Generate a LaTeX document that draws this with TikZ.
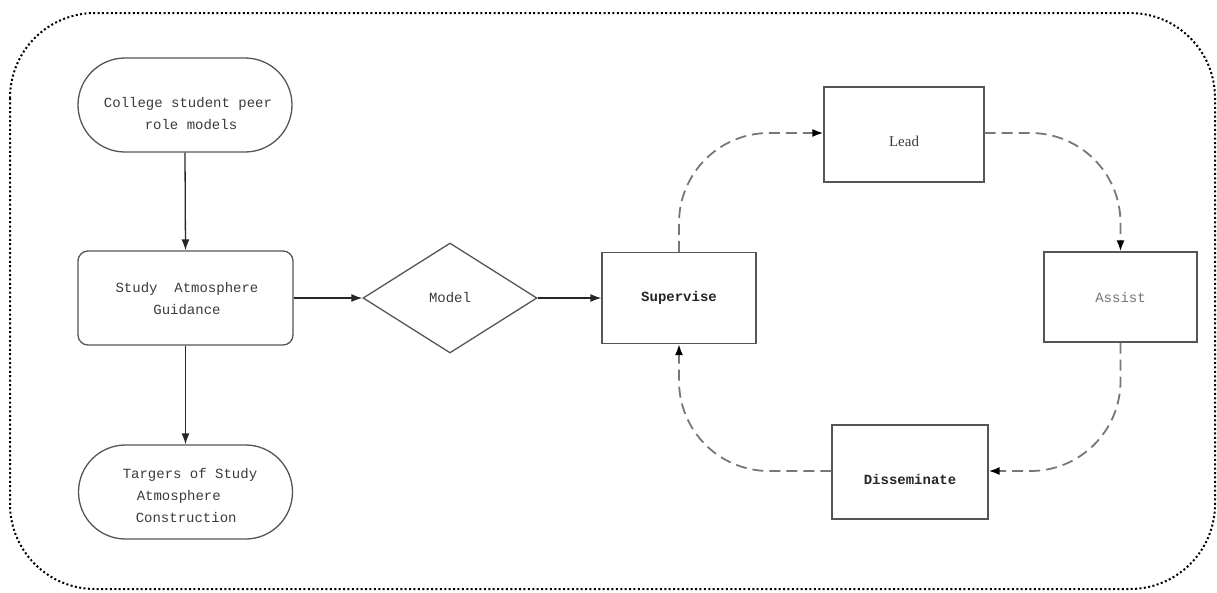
\documentclass[tikz,border=0pt]{standalone}
\usepackage{fontspec}
\setmonofont{Liberation Mono}
\newfontfamily\leadfont{Liberation Serif}
\usetikzlibrary{shapes.geometric,arrows.meta}
\definecolor{boxline}{HTML}{555555}
\definecolor{txt}{HTML}{3A3A3A}
\definecolor{dashc}{HTML}{777777}
\tikzset{
  txtfont/.style={font=\ttfamily\fontsize{14}{22}\selectfont, text=txt},
  base/.style={draw=boxline, line width=1.3pt, inner sep=0pt, txtfont},
  stadium/.style={base, rectangle, rounded corners=47pt, minimum width=214pt, minimum height=94pt},
  roundbox/.style={base, rectangle, rounded corners=10pt, minimum width=215pt, minimum height=94pt},
  plainbox/.style={base, rectangle, minimum width=154pt, minimum height=91pt},
  boldtxt/.style={font=\ttfamily\bfseries\fontsize{14}{22}\selectfont, text=black!85},
  decision/.style={base, diamond, minimum width=174pt, minimum height=110pt},
  solidarrow/.style={draw=black!85, line width=1.3pt, -{Latex[length=11pt,width=8pt]}},
  loopedge/.style={draw=dashc, line width=1.8pt, dash pattern=on 11pt off 6pt, rounded corners=90pt},
  looparrow/.style={loopedge, -{Latex[length=11pt,width=8pt,color=black]}},
  frame/.style={draw=black, line width=2pt, dash pattern=on 2pt off 2.4pt, rounded corners=85pt}
}
\begin{document}
\begin{tikzpicture}[x=1pt,y=-1pt]
\useasboundingbox (0,0) rectangle (1217,592);
\draw[frame] (10,13) rectangle (1215,589);

\node[stadium] (peer) at (185,105) {};
\node[txtfont, align=center] (peertxt) at (188,114) {College student peer\\\hspace*{6pt}role models};

\node[roundbox] (guide) at (185.5,298) {};
\node[txtfont, align=center] (guidetxt) at (187,299) {Study\ \ Atmosphere\\Guidance};

\node[stadium] (target) at (185.5,492) {};
\node[txtfont, align=left] (targettxt) at (190,495) {Targers of Study\\\hspace*{14pt}Atmosphere\\\hspace*{13pt}Construction};

\node[decision] (model) at (450,298) {Model};

\node[plainbox, boldtxt] (sup) at (679,298) {Supervise};
\node[plainbox, minimum width=160pt, minimum height=95pt] (lead) at (904,134.5) {};
\node[font=\leadfont\fontsize{15}{16}\selectfont, text=txt] (leadtxt) at (904,141) {Lead};
\node[plainbox, minimum width=153pt, minimum height=90pt, text=black!55] (assist) at (1120.5,297) {Assist};
\node[plainbox, minimum width=156pt, minimum height=94pt] (diss) at (910,472) {};
\node[boldtxt] (disstxt) at (910,479) {Disseminate};

\draw[solidarrow] (peer.south) -- (guide.north);
\draw[solidarrow] (guide.south) -- (target.north);
\draw[solidarrow] (guide.east) -- (model.west);
\draw[solidarrow] (model.east) -- (sup.west);

\draw[looparrow] (sup.north) |- ([yshift=1.5pt]lead.west);
\draw[looparrow] ([yshift=1.5pt]lead.east) -| (assist.north);
\draw[looparrow] (assist.south) |- ([yshift=1pt]diss.east);
\draw[looparrow] ([yshift=1pt]diss.west) -| (sup.south);
\end{tikzpicture}
\end{document}
